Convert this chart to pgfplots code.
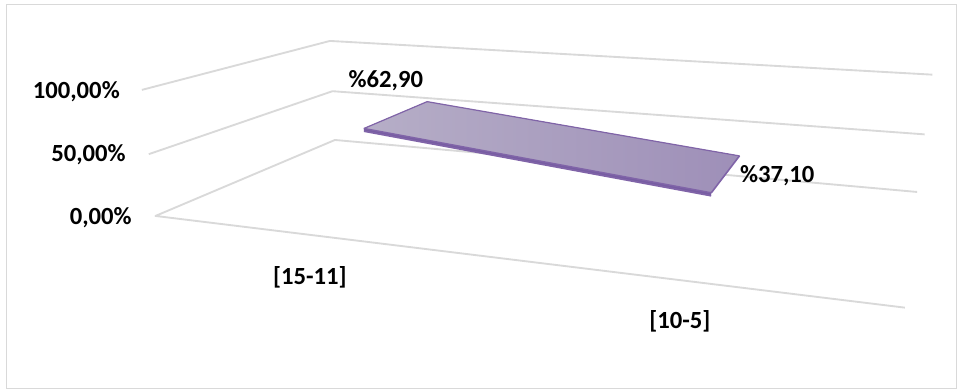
\documentclass[border=0pt]{standalone}
\usepackage{pgfplots}
\pgfplotsset{compat=1.18}
\usepackage{pgfplotstable}
\usepgfplotslibrary{fillbetween}
\usepackage{fontspec}
\setmainfont{Carlito}

\definecolor{gridgray}{RGB}{217,217,217}
\definecolor{ribL}{RGB}{182,174,199}
\definecolor{ribR}{RGB}{158,143,184}
\definecolor{ribEdge}{RGB}{128,100,168}
\definecolor{ribSide}{RGB}{118,92,162}

% perspective projection of (category k, depth v in [0,1], value z in %) to picture pixels
\pgfmathdeclarefunction{pden}{3}{\pgfmathparse{1-0.2121*((#1)-0.5)/2+0.2916*(#2)-0.038*(#3)/100}}
\pgfmathdeclarefunction{px}{3}{\pgfmathparse{(155.5+278.8*((#1)-0.5)+277.2*(#2)-0.19*(#3))/pden(#1,#2,#3)}}
\pgfmathdeclarefunction{py}{3}{\pgfmathparse{-(216+13.225*((#1)-0.5)-35.17*(#2)-1.295*(#3))/pden(#1,#2,#3)}}

% data: category index, value (%)
\pgfplotstableread{
k z
1 62.9
2 37.1
}\datatable

\begin{document}
\begin{tikzpicture}
\begin{axis}[
  x=0.75pt, y=0.75pt,
  xmin=0, xmax=957, ymin=-390, ymax=0,
  hide axis, clip=false,
  every axis plot/.append style={line join=round},
]
% bounding box and chart frame
\path (axis cs:0,0) rectangle (axis cs:957,-390);
\draw[gridgray, line width=1.1pt] (axis cs:6.5,-4.5) rectangle (axis cs:956.5,-388.5);

% walls: gridlines at 0, 50, 100 % on left wall and back wall, floor front edge
\addplot[gridgray, line width=1.4pt, mark=none] table[x expr={px(\thisrow{k},\thisrow{v},\thisrow{z})}, y expr={py(\thisrow{k},\thisrow{v},\thisrow{z})}] {
k v z
2.5 0 0
0.5 0 0
0.5 1 0
2.5 1 0
};
\addplot[gridgray, line width=1.4pt, mark=none] table[x expr={px(\thisrow{k},\thisrow{v},\thisrow{z})}, y expr={py(\thisrow{k},\thisrow{v},\thisrow{z})}] {
k v z
0.5 0 50
0.5 1 50
2.5 1 50
};
\addplot[gridgray, line width=1.4pt, mark=none] table[x expr={px(\thisrow{k},\thisrow{v},\thisrow{z})}, y expr={py(\thisrow{k},\thisrow{v},\thisrow{z})}] {
k v z
0.5 0 100
0.5 1 100
2.5 1 100
};

% ribbon (3-D line)
\addplot[draw=none, name path=fronttop] table[x expr={px(\thisrow{k},0.31,\thisrow{z})}, y expr={py(\thisrow{k},0.31,\thisrow{z})}] {\datatable};
\addplot[draw=none, name path=frontbot] table[x expr={px(\thisrow{k},0.31,\thisrow{z}-2.2)}, y expr={py(\thisrow{k},0.31,\thisrow{z}-2.2)}] {\datatable};
\addplot[draw=none, name path=backtop] table[x expr={px(\thisrow{k},0.73,\thisrow{z})}, y expr={py(\thisrow{k},0.73,\thisrow{z})}] {\datatable};
\addplot[ribSide] fill between[of=fronttop and frontbot, on layer=main];
\addplot[left color=ribL, right color=ribR] fill between[of=fronttop and backtop, on layer=main];
\addplot[ribEdge, line width=1.1pt, mark=none] table[x expr={px(\thisrow{k},0.31,\thisrow{z})}, y expr={py(\thisrow{k},0.31,\thisrow{z})}] {\datatable};
\addplot[ribEdge, line width=0.9pt, mark=none] table[x expr={px(\thisrow{k},0.73,\thisrow{z})}, y expr={py(\thisrow{k},0.73,\thisrow{z})}] {\datatable};
\addplot[ribEdge, line width=1.3pt, mark=none] table[x expr={px(\thisrow{k},0.31,\thisrow{z}-2.2)}, y expr={py(\thisrow{k},0.31,\thisrow{z}-2.2)}] {\datatable};
% end edges
\addplot[ribEdge, line width=0.9pt, mark=none] table[x expr={px(1,\thisrow{v},62.9)}, y expr={py(1,\thisrow{v},62.9)}] {
v
0.31
0.73
};
\addplot[ribEdge, line width=1.2pt, mark=none] table[x expr={px(2,\thisrow{v},37.1)}, y expr={py(2,\thisrow{v},37.1)}] {
v
0.31
0.73
};

% labels
\tikzset{lab/.style={font=\fontsize{18.5}{22}\selectfont\bfseries, text=black, inner sep=0pt}}
\node[lab, anchor=east] at (axis cs:120,-92) {100,00\%};
\node[lab, anchor=east] at (axis cs:126,-155) {50,00\%};
\node[lab, anchor=east] at (axis cs:132,-218) {0,00\%};
\node[lab, anchor=center] at (axis cs:386,-81) {\%62,90};
\node[lab, anchor=west] at (axis cs:740,-176) {\%37,10};
\node[lab, anchor=center] at (axis cs:310,-277) {[15-11]};
\node[lab, anchor=center] at (axis cs:680,-321) {[10-5]};
\end{axis}
\end{tikzpicture}
\end{document}
